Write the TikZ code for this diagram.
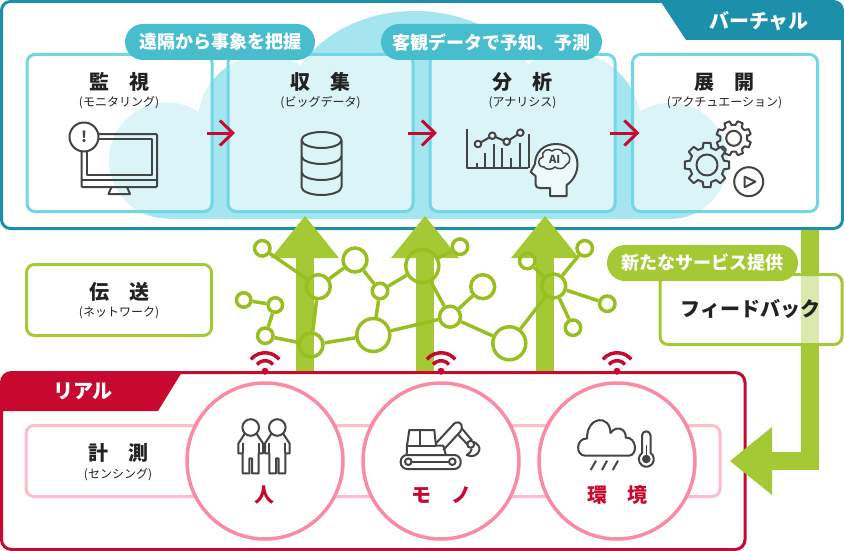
\documentclass[tikz,border=0pt]{standalone}
\usepackage{fontspec}
\setmainfont{Noto Sans CJK JP}
\usetikzlibrary{arrows.meta,positioning}

\definecolor{frameteal}{HTML}{1C90AA}
\definecolor{cloudblue}{HTML}{A5E5EF}
\definecolor{stageblue}{HTML}{72D6E6}
\definecolor{pillblue}{HTML}{48BDCE}
\definecolor{leafgreen}{HTML}{A5C935}
\definecolor{netgreen}{HTML}{98BF20}
\definecolor{realred}{HTML}{C8092F}
\definecolor{ringpink}{HTML}{FB8BA5}
\definecolor{sensepink}{HTML}{FFBCCB}
\definecolor{inkdark}{HTML}{222222}
\definecolor{iconink}{HTML}{444444}

\tikzset{
  stagebox/.style={draw=#1,line width=3pt,rounded corners=8pt,fill=white,fill opacity=.6,text opacity=1,
    minimum width=185pt,inner sep=0pt},
  pill/.style={fill=#1,rounded corners=18pt,minimum height=36pt,inner sep=0pt,text=white,
    font=\bfseries\fontsize{18}{20}\selectfont},
  headtext/.style={text=inkdark,inner sep=0pt,font=\bfseries\fontsize{20}{24}\selectfont},
  subtext/.style={text=inkdark,inner sep=0pt,font=\fontsize{12}{14}\selectfont},
  redtext/.style={text=realred,inner sep=0pt,font=\bfseries\fontsize{20}{24}\selectfont},
  tabtext/.style={text=white,inner sep=0pt,font=\bfseries\fontsize{20}{24}\selectfont},
  icon/.style={draw=iconink,line width=2pt,line join=round},
  flowarrow/.style={leafgreen,line width=18pt,-{Triangle[length=42pt,width=68pt,line width=0pt]}},
  hoparrow/.style={realred,line width=3pt,-{Straight Barb[length=13pt,width=25pt,line width=3pt]}},
  netnode/.style={circle,draw=netgreen,line width=3.5pt,inner sep=0pt,minimum size=#1},
  netlink/.style={netgreen,line width=3.5pt},
  sensering/.style={circle,draw=ringpink,fill=white,line width=3.5pt,minimum size=156pt,inner sep=0pt},
  wifi/.style={realred,line width=3.5pt}
}

\begin{document}
\begin{tikzpicture}[x=1pt,y=-1pt]
  \useasboundingbox (0,0) rectangle (844,551);

  \draw[frameteal,line width=3pt,rounded corners=9pt] (1.5,1.5) rectangle (842.5,228.5);
  \fill[frameteal] (661,2) -- (834,2) [rounded corners=8pt] -- (842,2) [sharp corners] -- (842,40) -- (686,40) -- cycle;
  \node[tabtext] (virtualtab) at (759,21) {バーチャル};

  \fill[cloudblue] (167,160.5) circle (58);
  \fill[cloudblue] (670,161) circle (58);
  \fill[cloudblue] (265,122) circle (67);
  \fill[cloudblue] (568,125) circle (73);
  \fill[cloudblue] (415,115) circle[x radius=130,y radius=104];
  \fill[cloudblue] (167,125) rectangle (670,218.5);

  \node[stagebox=stageblue,minimum height=157pt] (monitor) at (119.5,133) {};
  \node[stagebox=stageblue,minimum height=157pt] (collect) at (320.5,133) {};
  \node[stagebox=stageblue,minimum height=157pt] (analyze) at (522.5,133) {};
  \node[stagebox=stageblue,minimum height=157pt] (deploy) at (725,133) {};

  \node[pill=pillblue,minimum width=190pt] (remotepill) at (220,42) {遠隔から事象を把握};
  \node[pill=pillblue,minimum width=221pt] (insightpill) at (491.5,42) {客観データで予知、予測};

  \node[headtext] (monitorhead) at (119.5,82) {監　視};
  \node[subtext] (monitorsub) at (119,103) {(モニタリング)};
  \node[headtext] (collecthead) at (320.5,82) {収　集};
  \node[subtext] (collectsub) at (320.5,103) {(ビッグデータ)};
  \node[headtext] (analyzehead) at (522.5,82) {分　析};
  \node[subtext] (analyzesub) at (522.5,103) {(アナリシス)};
  \node[headtext] (deployhead) at (724.5,82) {展　開};
  \node[subtext] (deploysub) at (724.5,103) {(アクチュエーション)};

  \draw[hoparrow] ([xshift=-6.5pt]monitor.east) -- ([xshift=8.5pt]collect.west);
  \draw[hoparrow] ([xshift=-6.5pt]collect.east) -- ([xshift=8.5pt]analyze.west);
  \draw[hoparrow] ([xshift=-6.5pt]analyze.east) -- ([xshift=8.5pt]deploy.west);

  % monitor
  \draw[icon,rounded corners=1pt] (81.5,134) rectangle (157,187);
  \draw[icon] (87,139) rectangle (152,175);
  \draw[icon] (81.5,180) -- (157,180);
  \draw[icon] (111.5,187) -- (108.5,194) -- (130,194) -- (127,187);
  \draw[icon,fill=white] (84,137) circle (14.5);
  \node[text=iconink,inner sep=0pt,font=\bfseries\fontsize{15}{18}\selectfont] (alertmark) at (84,137) {!};

  % database
  \draw[icon] (321.5,140) circle[x radius=20,y radius=8];
  \draw[icon] (301.5,140) -- (301.5,187) arc[start angle=180,end angle=0,x radius=20,y radius=8] -- (341.5,140);
  \draw[icon] (301.5,156) arc[start angle=180,end angle=0,x radius=20,y radius=8];
  \draw[icon] (301.5,172) arc[start angle=180,end angle=0,x radius=20,y radius=8];

  % chart and head
  \draw[icon] (467.3,129.3) -- (467.3,168.3) -- (528,168.3);
  \foreach \barx/\bartop in {476.7/163,485/153,494/144,502/148,511/158,520/143,529/134}
    \draw[icon] (\barx,168.3) -- (\barx,\bartop);
  \draw[icon,fill=white!80!cloudblue] (478,144) circle (3.3) (492.3,135.7) circle (3.3) (506.7,141.7) circle (3.3) (520.3,132.7) circle (3.3);
  \draw[icon] (481,142.3) -- (489.4,137.4) (495.2,136.9) -- (503.8,140.5) (509.5,140) -- (517.5,134.5);
  \draw[icon,fill=white!80!cloudblue] (566.7,196) -- (566.7,185) .. controls (574,180) and (577.5,172) .. (577.5,164)
    .. controls (577.5,152) and (568,144) .. (556,144) .. controls (544,144) and (535,152) .. (535,164)
    -- (530.7,172) -- (535.5,176) -- (535.5,184) .. controls (535.5,187) and (537,188) .. (540,188)
    -- (550,188) -- (550,196) -- cycle;
  \draw[iconink,line width=1.5pt] (544,167) .. controls (537,167) and (537,158) .. (543,157)
    .. controls (541,150) and (549,148) .. (552,151) .. controls (555,148) and (563,149) .. (563,153)
    .. controls (571,152) and (572,163) .. (566,165) .. controls (564,170) and (557,169) .. (555,167)
    .. controls (552,170) and (546,170) .. (544,167) -- cycle;
  \node[text=iconink,inner sep=0pt,font=\bfseries\fontsize{11}{12}\selectfont] (aimark) at (554.7,159) {AI};

  % gears
  \draw[icon,shift={(707,165)}] (-14:17.5) \foreach \a in {0,45,...,315} {-- (\a-14:17.5) -- (\a-9:22.5) -- (\a+9:22.5) -- (\a+14:17.5) -- (\a+31:17.5)} -- cycle;
  \draw[icon] (707,165) circle (10.5);
  \draw[icon,shift={(733.7,138.3)}] (-14:13.5) \foreach \a in {22,67,...,337} {-- (\a-14:13.5) -- (\a-9:17.5) -- (\a+9:17.5) -- (\a+14:13.5) -- (\a+31:13.5)} -- cycle;
  \draw[icon] (733.7,138.3) circle (7.5);
  \draw[icon] (748.7,181.7) circle (14.5);
  \draw[icon] (744.7,176.7) -- (755.3,181.7) -- (744.7,187.3) -- cycle;

  \node[stagebox=leafgreen,minimum height=71pt] (transfer) at (119,300) {};
  \node[headtext] (transferhead) at (119.5,292) {伝　送};
  \node[subtext] (transfersub) at (119,313) {(ネットワーク)};

  \coordinate (flowAstart) at (305,380);
  \coordinate (flowAend) at (305,216);
  \coordinate (flowBstart) at (425,380);
  \coordinate (flowBend) at (425,216);
  \coordinate (flowCstart) at (545,380);
  \coordinate (flowCend) at (545,216);
  \draw[flowarrow] (flowAstart) -- (flowAend);
  \draw[flowarrow] (flowBstart) -- (flowBend);
  \draw[flowarrow] (flowCstart) -- (flowCend);

  \node[netnode=15.5pt] (na) at (262.3,248.3) {};
  \node[netnode=24pt] (nb) at (318.3,286.7) {};
  \node[netnode=24pt] (nc) at (355,260) {};
  \node[netnode=15.5pt] (nd) at (380,291) {};
  \node[netnode=14.5pt] (ne) at (243.7,300) {};
  \node[netnode=14.5pt] (nf) at (275.3,305) {};
  \node[netnode=15.5pt] (ng) at (265.3,335.7) {};
  \node[netnode=24pt] (nh) at (311,345) {};
  \node[netnode=33pt] (ni) at (373.3,335) {};
  \node[netnode=33pt] (nj) at (422.3,266) {};
  \node[netnode=15.5pt] (nk) at (460,246.7) {};
  \node[netnode=24pt] (nl) at (482.7,286.7) {};
  \node[netnode=21pt] (nm) at (450,316.7) {};
  \node[netnode=33pt] (nn) at (509.3,343.3) {};
  \node[netnode=15.5pt] (no) at (527.3,261) {};
  \node[netnode=24pt] (np) at (553.7,286) {};
  \node[netnode=15.5pt] (nq) at (584.7,248.3) {};
  \node[netnode=15.5pt] (nr) at (607.3,303.7) {};
  \node[netnode=15.5pt] (ns) at (573,327.7) {};
  \foreach \from/\to in {na/nb,nb/nc,nc/nd,nd/nj,nd/ni,nb/nh,ne/nf,nf/ng,ng/nh,nh/ni,ni/nm,nj/nk,nj/nm,nm/nl,nm/nn,nn/np,np/no,np/nq,np/nr,np/ns}
    \draw[netlink] (\from) -- (\to);

  \draw[realred,line width=3pt,rounded corners=10pt,fill=white] (1.5,372.5) rectangle (745,549.5);
  \fill[realred] (2,411) -- (2,380) [rounded corners=8pt] -- (2,372) [sharp corners] -- (182,372) -- (158,411) -- cycle;
  \node[tabtext] (realtab) at (83,391.5) {リアル};

  \node[draw=sensepink,line width=3pt,rounded corners=8pt,minimum width=694pt,minimum height=71pt,inner sep=0pt] (sensing) at (373,461) {};
  \node[headtext] (sensinghead) at (118,452.5) {計　測};
  \node[subtext] (sensingsub) at (118,474.5) {(センシング)};

  \node[sensering] (person) at (265,461) {};
  \node[sensering] (machine) at (441,461) {};
  \node[sensering] (climate) at (617,461) {};
  \node[redtext] (personlabel) at (264.5,495) {人};
  \node[redtext] (machinelabel) at (441,495) {モ　ノ};
  \node[redtext] (climatelabel) at (617,495) {環　境};

  \foreach \sensor in {person,machine,climate} {
    \fill[realred] ([yshift=10pt]\sensor.north) circle (3.5);
    \draw[wifi] ([yshift=10pt]\sensor.north) ++(220:10.5) arc[start angle=220,end angle=320,radius=10.5];
    \draw[wifi] ([yshift=10pt]\sensor.north) ++(220:18.5) arc[start angle=220,end angle=320,radius=18.5];
  }

  % people
  \foreach \headx in {250.7,277.3} {
    \draw[icon,shift={(\headx,427.5)}] (0,0) circle (8.3);
    \draw[icon,shift={(\headx,426.7)}] (-5.7,6.7) -- (-12.3,16.7) -- (-12.3,26.7) -- (-8,26.7) -- (-8,46.7) -- (-1.3,46.7) -- (-1.3,31.7) -- (1.3,31.7) -- (1.3,46.7) -- (8,46.7) -- (8,26.7) -- (12.3,26.7) -- (12.3,16.7) -- (5.7,6.7);
    \draw[icon,shift={(\headx,426.7)}] (-8,16.7) -- (-8,26.7) (8,16.7) -- (8,26.7);
  }

  % excavator
  \draw[icon,rounded corners=6.5pt] (400.7,455) rectangle (460.7,469);
  \draw[icon] (408.3,461.7) circle (3.3) (452.3,461.7) circle (3.3);
  \draw[icon] (411.7,461.7) -- (449,461.7);
  \draw[icon] (406.7,454.5) -- (407,445.7) -- (409.3,430) -- (434.3,430) -- (436,445.7) -- (443.3,445.7) -- (445.7,454.5);
  \draw[icon] (407,445.7) -- (436,445.7) (420,430) -- (420,445.7);
  \draw[icon] (436,443.3) -- (454,423.8) .. controls (456.5,421.5) and (460,422) .. (461.5,425) .. controls (462.5,428) and (462,430) .. (460,432) -- (443.3,450);
  \draw[icon] (461.5,428) -- (472,440.5) (457.5,434) -- (468,445);
  \draw[icon] (470.7,444.3) circle (3.5);
  \draw[icon] (473.3,441.7) .. controls (478,444) and (480,447) .. (479.3,450) .. controls (478.5,455) and (472,458) .. (466.7,455) .. controls (469,454) and (471,452) .. (471.7,448.5);

  % rain cloud
  \draw[icon] (585.3,455.7) .. controls (575,455.7) and (576,438) .. (587,438.5)
    .. controls (587,416) and (610,414) .. (610.5,433)
    .. controls (617,424) and (627,430) .. (625.5,437.5)
    .. controls (637,437) and (638,455.7) .. (628.7,455.7) -- cycle;
  \draw[icon] (596,460.7) -- (590.7,470) (607,460.7) -- (602,470) (618,460.7) -- (612.7,470);
  \draw[icon] (642,453) -- (642,435.5) arc[start angle=180,end angle=360,radius=4.25] -- (650.5,453) arc[start angle=-56,end angle=236,radius=7.5];
  \fill[iconink] (646.3,459) circle (4.3);
  \draw[iconink,line width=1.5pt] (646.3,445) -- (646.3,456);

  \coordinate (feedstart) at (810,230);
  \coordinate (feedend) at (730,461);
  \draw[flowarrow] (feedstart) |- (feedend);

  \node[stagebox=leafgreen,minimum width=182pt,minimum height=70pt] (feedback) at (751,309.5) {};
  \node[text=inkdark,inner sep=0pt,font=\bfseries\fontsize{20}{24}\selectfont] (feedbacktext) at (750.5,309) {フィードバック};
  \node[pill=leafgreen,minimum width=191pt] (servicepill) at (702.5,263) {新たなサービス提供};
\end{tikzpicture}
\end{document}
